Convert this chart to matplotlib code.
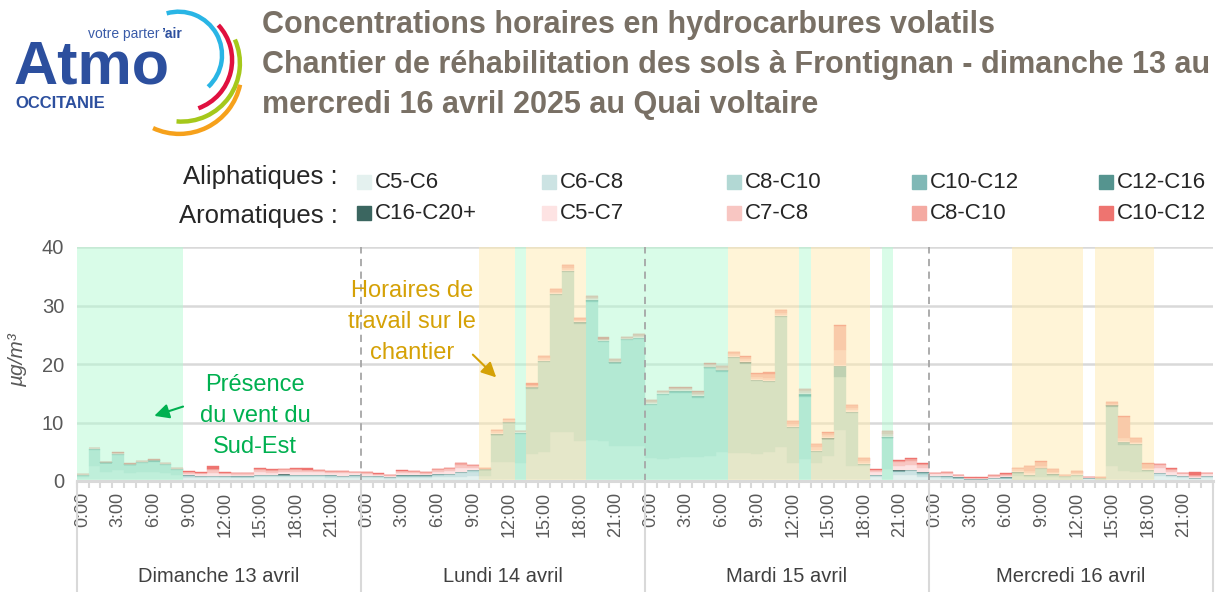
import numpy as np
import matplotlib
matplotlib.use('Agg')
import matplotlib.pyplot as plt
from matplotlib.patches import Rectangle, Arc

font = 'Liberation Sans'

days = ['Dimanche 13 avril', 'Lundi 14 avril', 'Mardi 15 avril', 'Mercredi 16 avril']
hour_labels = ['0:00', '3:00', '6:00', '9:00', '12:00', '15:00', '18:00', '21:00']

# valeurs horaires (µg/m3), une ligne par jour
c5_c6_ali = [.3, .3, .3, .3, .3, .3, .3, .3, .3, .5, .5, .5, .5, .5, .5, .6, .6, .6, .6, .6, .6, .5, .5, .5,
             .5, .5, .4, .5, .5, .5, .6, .6, .7, .8, .3, .3, .3, .3, .3, .3, .3, .3, .3, .3, .3, .3, .3, .3,
             .3, .3, .3, .3, .3, .3, .3, .3, .3, .3, .3, .3, .3, .3, .3, .3, .3, .3, .3, .6, .3, 1.0, 1.0, .6,
             .5, .4, .3, .15, .15, .3, .3, .2, .2, .2, .2, .15, .2, .4, .2, .3, .3, .3, .3, .8, .6, .5, .3, .5]
c6_c8_ali = [.3, 2.2, 1.3, 1.5, 1.0, 1.2, 1.2, 1.0, .7, .3, .25, .3, .25, .2, .2, .3, .3, .3, .3, .3, .3, .3, .3, .3,
             .3, .25, .2, .3, .3, .3, .4, .4, .6, .8, .6, 3.0, 3.0, 2.8, 4.4, 4.7, 8.0, 8.0, 6.6, 6.7, 6.5, 5.6, 5.6, 5.6,
             3.6, 3.4, 3.7, 3.8, 3.8, 3.9, 4.7, 4.5, 4.5, 4.4, 4.7, 5.5, 2.7, 3.4, 2.8, 4.0, 8.4, 2.2, 2.2, .3, 1.7, .6, .7, .5,
             .3, .3, .2, .1, .1, .15, .2, .6, .4, .4, .4, .35, .4, .1, .2, 2.3, 1.4, 1.3, 1.2, .5, .4, .3, .2, .3]
c8_c10_ali = [.3, 2.8, 1.4, 2.6, 1.4, 1.6, 1.8, 1.4, .9, .1, .05, .05, .05, .05, .05, .05, .05, .1, .1, .1, .1, .1, .05, .1,
              .05, .05, .05, .1, .1, .1, .1, .15, .2, .2, 1.0, 4.5, 6.6, 5.0, 11.0, 15.3, 23.5, 27.5, 19.9, 23.6, 16.9, 14.2, 18.2, 18.4,
              9.1, 11.0, 11.1, 11.0, 10.1, 15.1, 13.7, 16.3, 15.2, 12.4, 12.0, 22.3, 6.1, 10.6, 1.9, 2.8, 9.0, 9.2, .3, .1, 5.3, .1, .1, .2,
              .05, .05, .05, .03, .03, .03, .05, .6, .3, 1.5, .4, .3, .4, .03, .05, 10.1, 4.5, 4.6, .2, .05, .05, .03, .03, .03]
c10_c12_ali = [.05, .15, .1, .15, .1, .12, .15, .15, .1, .05, .03, .03, .03, .03, .03, .03, .03, .05, .05, .05, .05, .05, .03, .05,
               .03, .03, .03, .03, .03, .03, .03, .05, .05, .05, .05, .1, .1, .1, .2, .15, .1, .1, .2, .2, .15, .1, .1, .1,
               .1, .1, .15, .15, .2, .1, .1, .1, .15, .1, .1, .1, .1, .3, .1, .1, 1.9, .1, .05, .05, .1, .05, .05, .1,
               .03, .03, .03, .02, .02, .02, .03, .05, .05, .05, .1, .03, .05, .02, .03, .15, .4, .1, .1, .03, .03, .02, .02, .02]
c12_c16_ali = [.02, .05, .05, .05, .05, .05, .05, .05, .03, .02, .02, .02, .02, .02, .02, .02, .02, .05, .03, .03, .03, .03, .02, .03,
               .02, .02, .02, .02, .02, .02, .02, .03, .03, .03, .03, .05, .05, .05, .1, .05, .05, .05, .15, .1, .1, .05, .05, .05,
               .05, .05, .1, .1, .1, .05, .1, .05, .1, .05, .05, .05, .05, .2, .05, .05, .1, .05, .03, .03, .05, .03, .03, .08,
               .02, .02, .02, 0, 0, 0, .02, .03, .03, .03, .05, .02, .03, 0, .02, .05, .05, .05, .08, .02, .02, 0, 0, 0]
c16_c20_ali = [.01, .02, .02, .02, .02, .02, .02, .02, .01, .01, 0, 0, 0, 0, 0, 0, 0, .02, .02, .02, .01, .02, 0, .01,
               0, 0, 0, 0, 0, 0, 0, .02, .02, .02, .02, .02, .02, .02, .1, .02, .02, .02, .05, .05, .05, .02, .02, .02,
               .02, .02, .05, .05, .1, .02, .05, .02, .15, .02, .02, .02, .02, .1, .02, .02, .02, .02, .02, .02, .02, .02, .02, .02,
               0, 0, 0, 0, 0, 0, 0, .02, .12, .02, .02, 0, .02, 0, 0, .02, .02, .02, .02, 0, 0, 0, 0, 0]
c5_c7_aro = [.1, .05, .05, .05, .05, .03, .05, .05, .05, .3, .3, .5, .3, .3, .3, .5, .4, .4, .45, .4, .4, .35, .4, .3,
             .3, .25, .2, .4, .35, .3, .4, .45, .6, .4, 0, .2, .1, .1, .05, .1, .1, .1, .1, .1, .05, .1, .05, .1,
             .1, .1, .1, .1, .1, .1, .1, .1, .1, .15, .15, .1, .2, .15, .2, .2, .15, .2, .2, .4, .2, .8, .9, .7,
             .3, .35, .25, .15, .15, .25, .3, .2, .2, .1, .15, .05, .15, .1, .05, .1, .1, .1, .1, .8, .5, .35, .2, .35]
c7_c8_aro = [.05, .05, .03, .05, .03, .03, .05, .05, .05, .2, .2, .4, .2, .2, .2, .4, .35, .3, .35, .3, .25, .2, .25, .2,
             .2, .15, .12, .3, .25, .2, .3, .35, .5, .3, .05, .3, .2, .1, .1, .35, .3, .3, .2, .2, .1, .2, .1, .2,
             .2, .2, .2, .2, .2, .2, .25, .3, .3, .35, .35, .3, .35, .3, .4, .35, 2.6, .4, .4, .3, .35, .6, .6, .5,
             .15, .25, .15, .1, .08, .15, .2, .3, .4, .2, .3, .1, .2, .03, .03, .13, .6, .25, .3, .5, .3, .15, .15, .15]
c8_c10_aro = [.05, .05, .03, .05, .03, .03, .05, .05, .04, .1, .1, .3, .1, .07, .07, .2, .15, .15, .15, .15, .1, .1, .1, .07,
              .07, .03, .05, .1, .1, .1, .15, .15, .3, .15, .1, .2, .2, .1, .2, .4, .5, .5, .35, .4, .2, .3, .2, .3,
              .3, .2, .25, .25, .3, .3, .35, .4, .45, .6, .7, .6, .45, .35, .5, .45, 4.1, .5, .45, .15, .5, .3, .4, .25,
              .03, .07, .07, .03, .02, .05, .1, .25, .8, .8, .35, .07, .2, .02, .02, .3, 3.6, .65, .65, .2, .1, .05, .2, .05]
c10_c12_aro = [.05, .05, .03, .15, .03, .03, .05, .03, .02, .12, .05, .4, .05, .03, .03, .1, .1, .13, .15, .25, .06, .05, .05, .04,
               .03, .02, .03, .05, .05, .05, .1, .1, .1, .05, .1, .03, .03, .03, .25, .03, .03, .03, .05, .05, .25, .03, .08, .03,
               .03, .03, .05, .05, .1, .03, .05, .03, .05, .03, .23, .03, .03, .1, .03, .03, .03, .03, .05, .15, .08, .1, .1, .05,
               .02, .03, .03, .02, .05, .05, .1, .05, .1, .1, .03, .03, .05, 0, .1, .05, .13, .03, .05, 0, .2, 0, .5, 0]

# périodes (heures de début / fin)
vent_sud_est = [(0, 9), (37, 38), (43, 55), (61, 62), (68, 69)]
horaires_travail = [(34, 37), (38, 43), (55, 61), (62, 67), (79, 85), (86, 91)]

series = [
    ('C5-C6', c5_c6_ali, '#e4f1ef'),
    ('C6-C8', c6_c8_ali, '#cce3e3'),
    ('C8-C10', c8_c10_ali, '#b2d8d4'),
    ('C10-C12', c10_c12_ali, '#80b8b6'),
    ('C12-C16', c12_c16_ali, '#55948f'),
    ('C16-C20+', c16_c20_ali, '#3b6660'),
    ('C5-C7', c5_c7_aro, '#fde3e3'),
    ('C7-C8', c7_c8_aro, '#f8c6c2'),
    ('C8-C10', c8_c10_aro, '#f4aaa2'),
    ('C10-C12', c10_c12_aro, '#ee7470'),
]

W, H = 1222, 592
fig = plt.figure(figsize=(W / 100, H / 100), dpi=100)
ax = fig.add_axes([76.7 / W, 1 - 481 / H, (1213 - 76.7) / W, 234 / H])

x = np.arange(96)
bottom = np.zeros(96)
for name, vals, col in series:
    ax.bar(x, vals, width=1.0, bottom=bottom, color=col, edgecolor=col, linewidth=0.3, zorder=2)
    bottom += np.array(vals)

for a, b in vent_sud_est:
    ax.axvspan(a - 0.5, b - 0.5, color='#b4fbd3', alpha=0.5, lw=0, zorder=3)
for a, b in horaires_travail:
    ax.axvspan(a - 0.5, b - 0.5, color='#ffebb0', alpha=0.5, lw=0, zorder=3)

ax.vlines([23.5, 47.5, 71.5], 0, 40, colors='#a6a6a6', linestyles=(0, (4, 3)), lw=1.3, zorder=4)

ax.set_xlim(-0.5, 95.5)
ax.set_ylim(0, 40)
ax.set_yticks([0, 10, 20, 30, 40])
ax.yaxis.grid(True, color='#d9d9d9', lw=1.8)
ax.set_axisbelow(True)
for s in ['left', 'right', 'top']:
    ax.spines[s].set_visible(False)
ax.spines['bottom'].set_color('#d9d9d9')
ax.spines['bottom'].set_linewidth(2.2)
ax.spines['bottom'].set_zorder(5)

ax.tick_params(axis='y', length=0, pad=9, labelsize=14.5, labelcolor='#595959')
for t in ax.get_yticklabels():
    t.set_family(font)

ax.set_xticks(np.arange(0, 96, 3))
ax.set_xticklabels(hour_labels * 4, rotation=90, family=font, fontsize=13, color='#595959')
ax.set_xticks(np.arange(-0.5, 96, 1), minor=True)
ax.tick_params(axis='x', which='major', length=0, pad=8)
ax.tick_params(axis='x', which='minor', length=5, width=1.5, color='#d9d9d9')

tr = ax.get_xaxis_transform()
for b in [-0.5, 23.5, 47.5, 71.5, 95.5]:
    ax.plot([b, b], [0, -0.48], transform=tr, color='#d9d9d9', lw=1.5, clip_on=False)
for i, d in enumerate(days):
    ax.text(24 * i + 11.5, -0.41, d, transform=tr, ha='center', va='center',
            family=font, fontsize=14.5, color='#404040')

fig.text(18 / W, 1 - 360 / H, 'µg/m³', rotation=90, ha='center', va='center',
         family=font, fontsize=15, style='italic', color='#595959')

# annotations
ax.text(14.56, 11.1, 'Présence\ndu vent du\nSud-Est', ha='center', va='center',
        family=font, fontsize=17, color='#00b050', linespacing=1.55, zorder=6)
ax.annotate('', xy=(5.83, 10.99), xytext=(8.71, 12.87),
            arrowprops=dict(arrowstyle='-|>', color='#00b050', lw=1.5, mutation_scale=22), zorder=6)
ax.text(27.82, 27.2, 'Horaires de\ntravail sur le\nchantier', ha='center', va='center',
        family=font, fontsize=17, color='#d5a106', linespacing=1.55, zorder=6)
ax.annotate('', xy=(35.11, 17.38), xytext=(32.8, 21.93),
            arrowprops=dict(arrowstyle='-|>', color='#d5a106', lw=1.5, mutation_scale=22), zorder=6)

# légende
row1 = series[:5]
row2 = series[5:]
lefts = [357, 542, 727, 912, 1099]
for row, yc in [(row1, 182), (row2, 213)]:
    for (name, vals, col), xl in zip(row, lefts):
        fig.add_artist(Rectangle((xl / W, 1 - (yc + 7) / H), 14 / W, 14 / H,
                                 transform=fig.transFigure, color=col))
        fig.text((xl + 18) / W, 1 - yc / H, name, ha='left', va='center',
                 family=font, fontsize=16, color='#262626')
fig.text(338 / W, 1 - 177 / H, 'Aliphatiques :', ha='right', va='center',
         family=font, fontsize=18.5, color='#262626')
fig.text(338 / W, 1 - 216 / H, 'Aromatiques :', ha='right', va='center',
         family=font, fontsize=18.5, color='#262626')

# titre
titre = ['Concentrations horaires en hydrocarbures volatils',
         'Chantier de réhabilitation des sols à Frontignan - dimanche 13 au',
         'mercredi 16 avril 2025 au Quai voltaire']
for ligne, yb in zip(titre, [33, 73, 113]):
    fig.text(262 / W, 1 - yb / H, ligne, ha='left', va='baseline',
             family=font, weight='bold', fontsize=22, color='#797065')

# logo
lax = fig.add_axes([0, 1 - 140 / H, 260 / W, 140 / H])
lax.set_xlim(0, 260)
lax.set_ylim(140, 0)
lax.axis('off')
lax.text(13, 84, 'Atmo', family=font, weight='bold', fontsize=44, color='#2c4f9e', va='baseline')
lax.text(88, 38, 'votre parter', family=font, fontsize=10, color='#3a5ba8', va='baseline')
lax.text(161, 38, '\u2019air', family=font, weight='bold', fontsize=10, color='#2c4f9e', va='baseline')
lax.text(15, 108, 'OCCITANIE', family=font, weight='bold', fontsize=12, color='#2c4f9e', va='baseline')
for cx, cy, r, t1, t2, col in [(178.6, 55.1, 43.4, -106, 47, '#29b5e5'),
                               (180.8, 60.1, 51.3, -43, 70, '#e0103f'),
                               (181.6, 63.3, 58.3, -24, 95, '#a5c81b'),
                               (179.3, 71.8, 62.1, 12, 115, '#f6a11b')]:
    lax.add_patch(Arc((cx, cy), 2 * r, 2 * r, theta1=t1, theta2=t2, color=col, lw=3.2))

fig.savefig('out.png', dpi=100)
